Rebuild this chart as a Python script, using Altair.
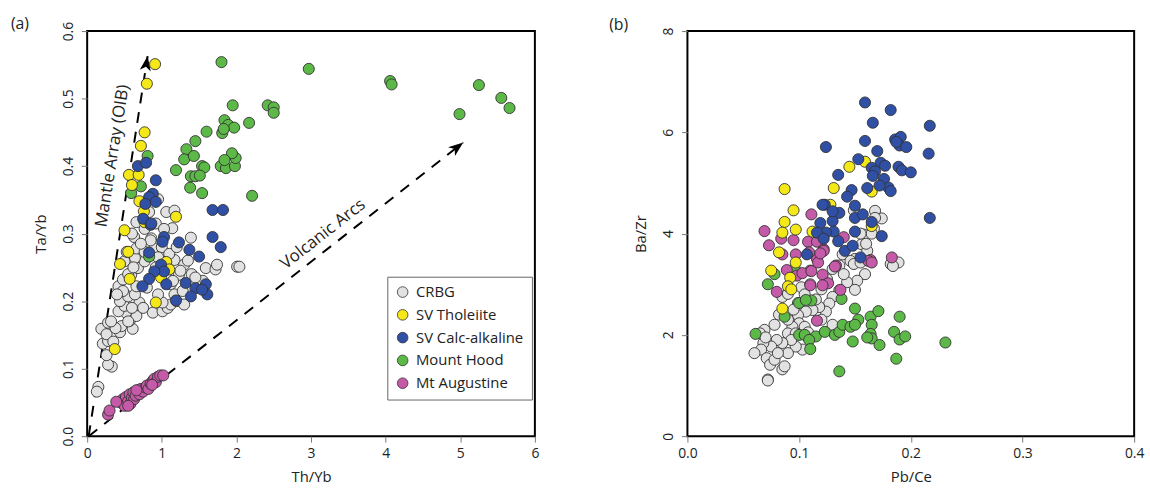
import altair as alt
import pandas as pd

FONT = "Open Sans"

groups = ["CRBG", "SV Tholeiite", "SV Calc-alkaline", "Mount Hood", "Mt Augustine"]
colors = ["#e2e2e2", "#f5e818", "#3050a5", "#5cb947", "#c55aa8"]
draw_order = ["CRBG", "Mount Hood", "Mt Augustine", "SV Tholeiite", "SV Calc-alkaline"]

# ---------------- Panel (a): Th/Yb vs Ta/Yb ----------------
a_crbg = [(0.15,0.073),(0.13,0.066),(0.33,0.103),(0.28,0.106),(0.26,0.120),(0.21,0.137),(0.28,0.141),
          (0.19,0.159),(0.28,0.168),(0.26,0.151),(0.44,0.154),(0.46,0.163),(0.61,0.159),(0.57,0.171),
          (0.66,0.178),(0.52,0.183),(0.42,0.185),(0.50,0.193),(0.44,0.200),(0.55,0.207),(0.70,0.198),
          (0.64,0.210),(0.88,0.183),(1.01,0.185),(1.08,0.190),(0.42,0.222),(0.48,0.232),(0.59,0.239),
          (0.68,0.249),(0.77,0.259),(0.64,0.264),(0.50,0.259),(0.53,0.273),(0.66,0.278),(0.77,0.273),
          (0.90,0.278),(1.17,0.261),(1.30,0.254),(1.23,0.239),(1.12,0.225),(1.17,0.210),(1.12,0.195),
          (1.01,0.198),(1.59,0.249),(1.72,0.247),(1.74,0.254),(2.01,0.251),(2.04,0.251),(0.66,0.222),
          (0.95,0.351),(1.06,0.332),(1.17,0.334),(0.83,0.332),(0.66,0.317),(0.77,0.307),(0.92,0.315),
          (1.14,0.308),(1.03,0.307),(0.86,0.293),(1.39,0.294),(0.63,0.295),(0.85,0.29),(1.0,0.28),
          (1.1,0.27),(0.95,0.265),(1.2,0.28),(0.6,0.30),(0.72,0.285),(1.25,0.245),(1.4,0.24),(1.35,0.26),
          (1.55,0.23),(1.45,0.235),(1.28,0.215),(1.2,0.2),(0.95,0.21),(0.8,0.22),(0.75,0.19),(0.6,0.19),
          (0.55,0.17),(1.05,0.24),(0.92,0.25),(1.15,0.23),(1.3,0.195),(0.35,0.14),(0.38,0.16),(0.32,0.17),
          (0.48,0.215),(0.4,0.21),(0.55,0.24),(0.62,0.25)]
a_thol = [(0.91,0.551),(0.80,0.522),(0.77,0.450),(0.72,0.430),(0.56,0.387),(0.69,0.387),(0.60,0.372),
          (0.70,0.348),(0.76,0.333),(0.77,0.317),(0.50,0.305),(1.19,0.325),(0.55,0.273),(0.44,0.255),
          (0.57,0.233),(1.06,0.258),(1.10,0.247),(0.99,0.235),(0.92,0.198),(0.37,0.129)]
a_calc = [(0.68,0.400),(0.79,0.405),(0.92,0.379),(0.88,0.359),(0.83,0.354),(0.78,0.344),(0.85,0.313),
          (0.75,0.322),(1.68,0.335),(1.82,0.335),(1.68,0.295),(1.23,0.287),(1.03,0.295),(1.01,0.288),
          (1.37,0.276),(1.50,0.266),(1.79,0.280),(0.83,0.272),(0.99,0.254),(1.03,0.244),(0.90,0.244),
          (0.83,0.233),(0.74,0.222),(1.06,0.225),(1.32,0.227),(1.45,0.219),(1.59,0.225),(1.61,0.210),
          (1.39,0.207),(1.19,0.201),(1.54,0.217),(0.92,0.347),(0.86,0.315)]
a_hood = [(1.80,0.554),(2.97,0.544),(4.06,0.526),(4.08,0.521),(5.25,0.520),(5.55,0.501),(5.66,0.486),
          (4.99,0.477),(1.95,0.490),(2.42,0.490),(2.50,0.487),(2.50,0.479),(1.84,0.468),(1.89,0.461),
          (1.97,0.457),(1.81,0.449),(1.83,0.455),(2.17,0.464),(1.60,0.451),(1.45,0.437),(1.33,0.425),
          (1.30,0.410),(1.43,0.415),(1.19,0.394),(1.54,0.400),(1.57,0.398),(1.39,0.385),(1.45,0.385),
          (1.51,0.386),(1.38,0.368),(1.54,0.360),(1.79,0.400),(1.86,0.397),(1.98,0.400),(1.99,0.412),
          (1.94,0.419),(1.84,0.409),(2.21,0.356),(0.81,0.415),(0.72,0.370),(0.59,0.360),(0.83,0.266)]
a_aug = [(0.28,0.032),(0.30,0.038),(0.45,0.050),(0.48,0.055),(0.50,0.045),(0.52,0.058),(0.55,0.052),
         (0.57,0.062),(0.58,0.048),(0.60,0.057),(0.62,0.065),(0.63,0.055),(0.65,0.060),(0.68,0.068),
         (0.70,0.062),(0.72,0.070),(0.75,0.066),(0.78,0.072),(0.80,0.075),(0.82,0.070),(0.85,0.078),
         (0.88,0.082),(0.90,0.085),(0.92,0.080),(0.95,0.088),(0.98,0.090),(1.02,0.090),(0.87,0.076),
         (0.55,0.045),(0.66,0.068),(0.39,0.051)]

# trend arrows (start / tip) in data units
arrow_line = ["Mantle Array (OIB)", "Mantle Array (OIB)", "Volcanic Arcs", "Volcanic Arcs"]
arrow_x = [0.02, 0.81, 0.02, 5.04]
arrow_y = [0.0, 0.563, 0.0, 0.435]
label_text = ["Mantle Array (OIB)", "Volcanic Arcs"]
label_x = [0.34, 3.16]
label_y = [0.415, 0.299]

# ---------------- Panel (b): Pb/Ce vs Ba/Zr ----------------
b_crbg = [(0.168,4.45),(0.174,4.30),(0.167,4.10),(0.158,3.98),(0.156,3.79),(0.161,3.66),(0.150,3.50),
          (0.159,3.20),(0.152,3.07),(0.143,3.04),(0.150,2.89),(0.139,3.59),(0.146,3.46),(0.136,3.37),
          (0.149,3.40),(0.136,2.88),(0.130,2.75),(0.127,2.62),(0.124,2.46),(0.118,2.55),(0.112,2.49),
          (0.106,2.46),(0.099,2.39),(0.100,2.23),(0.105,2.16),(0.094,2.16),(0.090,2.03),(0.097,2.03),
          (0.103,1.71),(0.097,1.77),(0.093,1.90),(0.090,1.64),(0.085,1.84),(0.080,1.90),(0.075,1.77),
          (0.069,2.10),(0.068,1.84),(0.066,1.71),(0.060,1.64),(0.071,1.54),(0.074,1.41),(0.078,1.51),
          (0.081,1.64),(0.085,1.32),(0.087,1.38),(0.072,1.12),(0.065,2.03),(0.085,2.75),(0.090,2.81),
          (0.099,2.63),(0.102,2.94),(0.12,2.9),(0.125,3.1),(0.14,3.2),(0.13,3.3),(0.11,3.0),(0.105,2.8),
          (0.115,2.7),(0.12,2.3),(0.13,2.2),(0.095,2.5),(0.09,2.3),(0.108,2.05),(0.082,2.4),(0.07,1.95),
          (0.078,2.2),(0.168,4.31),(0.182,3.40),(0.189,3.43),(0.184,3.36),(0.155,3.43),(0.165,4.0),
          (0.16,3.8),(0.072,1.10),(0.149,4.46),(0.155,4.0)]
b_thol = [(0.087,4.88),(0.095,4.46),(0.087,4.23),(0.097,4.08),(0.131,4.90),(0.145,5.32),(0.159,5.42),
          (0.128,4.57),(0.165,4.83),(0.165,4.15),(0.112,4.04),(0.082,3.63),(0.075,3.27),(0.085,4.02),
          (0.092,3.13),(0.090,2.96),(0.085,2.52),(0.097,3.43),(0.093,2.90)]
b_calc = [(0.159,6.59),(0.182,6.44),(0.166,6.19),(0.217,6.13),(0.159,5.83),(0.124,5.71),(0.186,5.86),
          (0.191,5.91),(0.190,5.74),(0.196,5.71),(0.187,5.81),(0.216,5.58),(0.170,5.63),(0.153,5.47),
          (0.173,5.40),(0.177,5.34),(0.165,5.30),(0.168,5.23),(0.166,5.14),(0.189,5.32),(0.192,5.25),
          (0.200,5.21),(0.135,5.16),(0.176,5.08),(0.180,4.91),(0.182,4.84),(0.172,4.95),(0.161,4.90),
          (0.147,4.86),(0.143,4.73),(0.123,4.57),(0.136,4.41),(0.150,4.55),(0.150,4.31),(0.157,4.38),
          (0.150,4.04),(0.165,4.23),(0.174,3.95),(0.217,4.31),(0.130,4.25),(0.131,4.04),(0.119,4.21),
          (0.124,4.02),(0.141,3.66),(0.148,3.76),(0.155,3.53),(0.107,3.59),(0.121,4.57),(0.130,4.44),
          (0.116,4.02),(0.122,3.90),(0.135,3.85)]
b_hood = [(0.061,2.02),(0.072,3.00),(0.078,3.20),(0.100,2.63),(0.111,2.68),(0.106,2.69),(0.087,2.36),
          (0.100,2.00),(0.105,2.00),(0.115,1.97),(0.123,2.06),(0.109,1.90),(0.110,1.72),(0.132,2.00),
          (0.136,2.06),(0.139,2.20),(0.146,2.16),(0.150,2.52),(0.153,2.30),(0.150,2.20),(0.164,2.36),
          (0.165,2.20),(0.171,2.47),(0.164,2.02),(0.165,1.93),(0.161,1.95),(0.172,1.80),(0.148,1.87),
          (0.185,2.06),(0.190,1.91),(0.195,1.97),(0.190,2.36),(0.187,1.53),(0.136,1.28),(0.231,1.85),
          (0.096,3.32),(0.138,2.71)]
b_aug = [(0.111,4.38),(0.069,4.05),(0.073,3.77),(0.084,3.90),(0.095,3.87),(0.097,3.59),(0.085,3.59),
         (0.108,3.84),(0.116,3.84),(0.122,3.69),(0.116,3.50),(0.098,3.17),(0.089,3.28),(0.110,3.27),
         (0.117,3.43),(0.122,3.66),(0.140,3.93),(0.133,3.37),(0.164,3.48),(0.183,3.53),(0.119,3.61),
         (0.109,3.63),(0.103,3.22),(0.111,3.26),(0.121,3.19),(0.126,3.02),(0.110,2.98),(0.121,2.98),
         (0.132,3.35),(0.080,2.85),(0.137,2.89),(0.116,2.28),(0.162,3.46),(0.165,3.43)]

xa_ticks = [0, 1, 2, 3, 4, 5, 6]
ya_ticks = [0.0, 0.1, 0.2, 0.3, 0.4, 0.5, 0.6]
xb_ticks = [0.0, 0.1, 0.2, 0.3, 0.4]
yb_ticks = [0, 2, 4, 6, 8]


def frame(d):
    rows = []
    for g in draw_order:
        for x, y in d[g]:
            rows.append({"x": x, "y": y, "group": g})
    return pd.DataFrame(rows)


df_a = frame({"CRBG": a_crbg, "SV Tholeiite": a_thol, "SV Calc-alkaline": a_calc,
              "Mount Hood": a_hood, "Mt Augustine": a_aug})
df_b = frame({"CRBG": b_crbg, "SV Tholeiite": b_thol, "SV Calc-alkaline": b_calc,
              "Mount Hood": b_hood, "Mt Augustine": b_aug})


def axis(values, fmt, title, vertical=False):
    kw = dict(values=values, format=fmt, title=title, domain=False, grid=False, ticks=True,
              tickSize=6, tickColor="#777", tickWidth=1, labelFont=FONT, labelFontSize=14,
              labelColor="#222", labelOverlap=False, labelFlush=False, titleFont=FONT,
              titleFontSize=15, titleFontWeight="normal", titleColor="#222")
    if vertical:
        kw.update(labelAngle=270, labelAlign="center", labelBaseline="bottom", labelPadding=6,
                  titlePadding=13)
    else:
        kw.update(labelPadding=5, titlePadding=9)
    return alt.Axis(**kw)


def enc_xy(xdom, ydom, xax, yax):
    return dict(
        x=alt.X("x:Q", scale=alt.Scale(domain=xdom, nice=False, zero=False), axis=xax),
        y=alt.Y("y:Q", scale=alt.Scale(domain=ydom, nice=False, zero=False), axis=yax),
    )


XA = axis(xa_ticks, "d", "Th/Yb")
YA = axis(ya_ticks, ".1f", "Ta/Yb", vertical=True)
XB = axis(xb_ticks, ".1f", "Pb/Ce")
YB = axis(yb_ticks, "d", "Ba/Zr", vertical=True)

color_a = alt.Color("group:N", scale=alt.Scale(domain=groups, range=colors),
                    legend=alt.Legend(title=None, orient="none", legendX=303, legendY=248,
                                      strokeColor="#666", fillColor="white", padding=8,
                                      labelFont=FONT, labelFontSize=15, labelColor="#222",
                                      symbolType="circle", symbolSize=115,
                                      symbolStrokeColor="#333", symbolStrokeWidth=0.8,
                                      rowPadding=7, labelOffset=6))
color_b = alt.Color("group:N", scale=alt.Scale(domain=groups, range=colors), legend=None)

PT = 125
pts_a = alt.Chart(df_a).mark_circle(size=PT, stroke="#333", strokeWidth=0.9, opacity=1).encode(
    color=color_a, **enc_xy([0, 6], [0, 0.6], XA, YA))

arrow_df = pd.DataFrame({"x": arrow_x, "y": arrow_y, "line": arrow_line})
lines_a = alt.Chart(arrow_df).mark_line(strokeDash=[11, 9], strokeWidth=2, color="black").encode(
    detail="line:N", **enc_xy([0, 6], [0, 0.6], XA, YA))

HEAD = "M0,0L0.75,2L0,1.45L-0.75,2Z"
tip_m = alt.Chart(arrow_df.iloc[[1]]).mark_point(shape=HEAD, filled=True, color="black", size=225,
                                                  opacity=1, angle=9).encode(
    **enc_xy([0, 6], [0, 0.6], XA, YA))
tip_v = alt.Chart(arrow_df.iloc[[3]]).mark_point(shape=HEAD, filled=True, color="black", size=225,
                                                  opacity=1, angle=52).encode(
    **enc_xy([0, 6], [0, 0.6], XA, YA))

lab_df = pd.DataFrame({"x": label_x, "y": label_y, "t": label_text})
lab_m = alt.Chart(lab_df.iloc[[0]]).mark_text(angle=279, font=FONT, fontSize=17, color="#222").encode(
    text="t:N", **enc_xy([0, 6], [0, 0.6], XA, YA))
lab_v = alt.Chart(lab_df.iloc[[1]]).mark_text(angle=322, font=FONT, fontSize=17, color="#222").encode(
    text="t:N", **enc_xy([0, 6], [0, 0.6], XA, YA))

tag_a = alt.Chart(pd.DataFrame({"t": ["(a)"]})).mark_text(
    align="left", baseline="middle", font=FONT, fontSize=16, color="#222").encode(
    x=alt.value(-77), y=alt.value(-7), text="t:N")

left = alt.layer(lines_a, tip_m, tip_v, lab_m, lab_v, pts_a, tag_a).properties(width=452, height=409)

pts_b = alt.Chart(df_b).mark_circle(size=PT, stroke="#333", strokeWidth=0.9, opacity=1).encode(
    color=color_b, **enc_xy([0, 0.4], [0, 8], XB, YB))
tag_b = alt.Chart(pd.DataFrame({"t": ["(b)"]})).mark_text(
    align="left", baseline="middle", font=FONT, fontSize=16, color="#222").encode(
    x=alt.value(-79), y=alt.value(-6), text="t:N")
# invisible spacer that lifts the panel's bounds so its frame sits a little lower
pad_b = alt.Chart(pd.DataFrame({"t": ["(b)"]})).mark_text(
    align="left", baseline="middle", font=FONT, fontSize=16, opacity=0).encode(
    x=alt.value(-79), y=alt.value(-10), text="t:N")
right = alt.layer(pts_b, tag_b, pad_b).properties(width=451, height=409)

chart = alt.hconcat(left, right, spacing=68).resolve_legend(color="independent").properties(
    padding={"left": 10, "top": 10, "right": 5, "bottom": 5}
).configure_view(stroke="black", strokeWidth=2)

chart.save("out.html", embed_options={"renderer": "svg", "actions": False})
